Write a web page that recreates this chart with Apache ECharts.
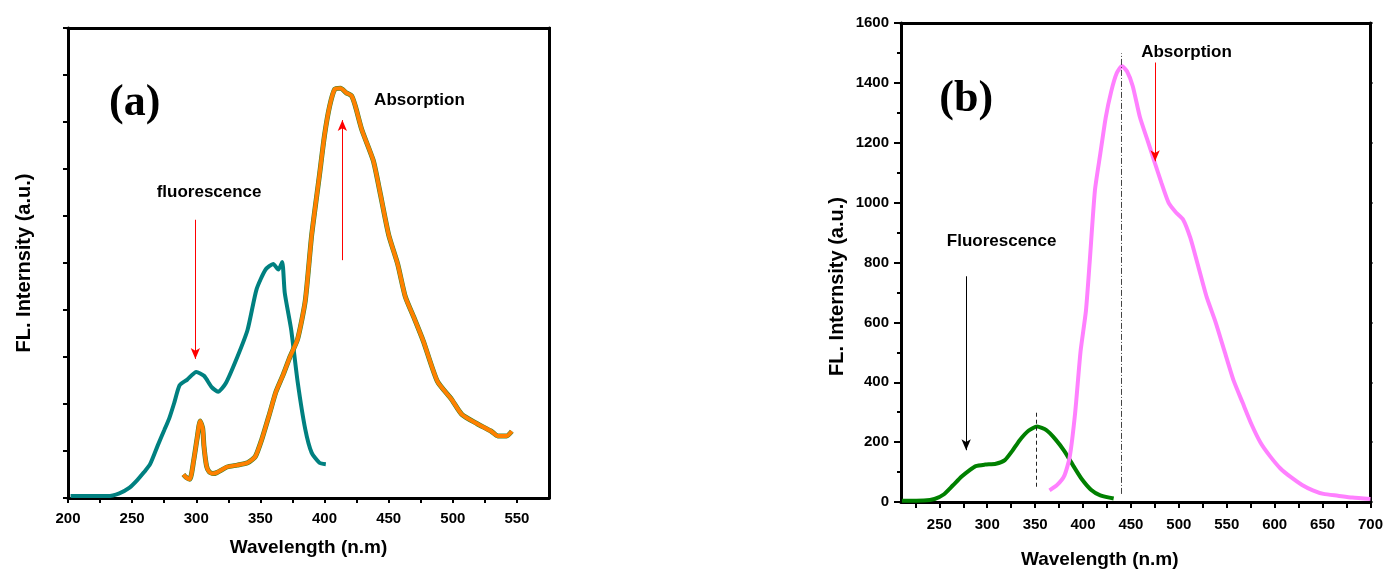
<!DOCTYPE html>
<html><head><meta charset="utf-8">
<script src="https://cdn.jsdelivr.net/npm/echarts@6/dist/echarts.min.js"></script>
<style>html,body{margin:0;padding:0;background:#fff}#c{width:1386px;height:574px}</style>
</head><body><div id="c"></div>
<script>
// ---------- Panel (a) data ----------
const A_FL_X = [202,215,231,240,248,254,259,264,270,275,279,283,287,293,300,306,312,317,323,332,340,347,354,360,364,367,369,374,379,385,390,396,401];
const A_FL_Y = [0.02,0.02,0.02,0.05,0.11,0.19,0.27,0.36,0.56,0.72,0.85,1.02,1.20,1.26,1.34,1.30,1.18,1.13,1.22,1.50,1.79,2.22,2.43,2.49,2.43,2.51,2.18,1.79,1.24,0.73,0.48,0.375,0.36];
const A_AB_X = [290,292,295,298,300.5,303,305,306,308,310,313,316,324,332,340,346,351,357,362,368,373,379,385,390,396,400,404,408,412.5,417,421,424,429,438,443,450,457,463,470,477,488,499,507,519,530,535,542,546];
const A_AB_Y = [0.25,0.22,0.2,0.4,0.62,0.82,0.74,0.55,0.34,0.28,0.26,0.27,0.33,0.35,0.375,0.44,0.62,0.89,1.125,1.32,1.50,1.69,2.10,2.80,3.43,3.86,4.17,4.35,4.36,4.31,4.28,4.17,3.92,3.59,3.27,2.80,2.49,2.14,1.91,1.67,1.24,1.05,0.89,0.79,0.71,0.66,0.66,0.71];
const A_XLABELS = [200,250,300,350,400,450,500,550];
const A_XTICKS = [200,225,250,275,300,325,350,375,400,425,450,475,500,525,550];

// ---------- Panel (b) data ----------
const B_FL_X = [211,234,245,254.5,264,273.3,281,288,297.7,309,318.4,326,333.5,343,352,361.7,371,380.5,390,399,408.6,418,432];
const B_FL_Y = [4,5,10,25,55,85,105,120,125,128,140,170,205,238,252,240,210,170,120,75,40,22,12];
const B_AB_X = [365,373,380.5,386,391.7,397.4,403,406.8,412.4,418,423.7,429.3,435,440.6,446,451.9,459.4,466.9,474.4,481.9,489.5,497,504.5,512,519.5,528.9,538.3,547.7,557.1,566.5,575.9,585.3,594.7,606,617.3,628.6,639.8,651,666,681,700];
const B_AB_Y = [39,57,88,149,296,503,638,796,1041,1163,1285,1370,1431,1456,1438,1389,1285,1212,1138,1065,998,967,943,882,796,686,601,503,406,332,259,198,155,112,82,57,39,27,21,15,10];
const B_XLABELS = [250,300,350,400,450,500,550,600,650,700];
const B_XTICKS = [225,250,275,300,325,350,375,400,425,450,475,500,525,550,575,600,625,650,675,700];

const zip = (xs, ys) => xs.map((x, i) => [x, ys[i]]);
const FONT = "'Liberation Sans', Arial, sans-serif";
const SERIF = "'Liberation Serif', 'DejaVu Serif', serif";
const AX = {onZero: false, lineStyle: {color: '#000', width: 3}};
const SM = 0.2;

function label(coord, text, size, family) {
  return {coord: coord, symbol: 'circle', symbolSize: 0,
    label: {show: true, position: 'inside', formatter: text, color: '#000',
      fontSize: size, fontWeight: 'bold', fontFamily: family}};
}
function arrow(x, y1, y2, color) {
  return [{coord: [x, y1], lineStyle: {color: color, width: 1, type: 'solid'}},
          {coord: [x, y2]}];
}

const chart = echarts.init(document.getElementById('c'), null, {renderer: 'canvas'});
chart.setOption({
  animation: false,
  backgroundColor: '#fff',
  grid: [
    {left: 68, top: 28, width: 481, height: 470},
    {left: 901, top: 23, width: 473, height: 479}
  ],
  xAxis: [
    {gridIndex: 0, type: 'value', min: 200, max: 575, position: 'bottom',
     name: 'Wavelength (n.m)', nameLocation: 'middle', nameGap: 40,
     nameTextStyle: {fontFamily: FONT, fontWeight: 'bold', fontSize: 19, color: '#000'},
     axisLine: AX, splitLine: {show: false},
     axisTick: {inside: false, length: 5, lineStyle: {width: 2, color: '#000'}, customValues: A_XTICKS},
     axisLabel: {customValues: A_XLABELS, margin: 13, fontFamily: FONT, fontWeight: 'bold', fontSize: 15, color: '#000'}},
    {gridIndex: 0, type: 'value', min: 200, max: 575, position: 'top',
     axisLine: AX, splitLine: {show: false}, axisTick: {show: false}, axisLabel: {show: false}},
    {gridIndex: 1, type: 'value', min: 210, max: 700, position: 'bottom',
     name: 'Wavelength (n.m)', nameLocation: 'middle', nameGap: 48,
     nameTextStyle: {fontFamily: FONT, fontWeight: 'bold', fontSize: 19, color: '#000', padding: [0, 72, 0, 0]},
     axisLine: AX, splitLine: {show: false},
     axisTick: {inside: false, length: 6, lineStyle: {width: 2, color: '#000'}, customValues: B_XTICKS},
     axisLabel: {customValues: B_XLABELS, margin: 15, fontFamily: FONT, fontWeight: 'bold', fontSize: 15, color: '#000'}},
    {gridIndex: 1, type: 'value', min: 210, max: 700, position: 'top',
     axisLine: AX, splitLine: {show: false}, axisTick: {show: false}, axisLabel: {show: false}}
  ],
  yAxis: [
    {gridIndex: 0, type: 'value', min: 0, max: 5, interval: 0.5, position: 'left',
     name: 'FL. Internsity (a.u.)', nameLocation: 'middle', nameGap: 34,
     nameTextStyle: {fontFamily: FONT, fontWeight: 'bold', fontSize: 20, color: '#000'},
     axisLine: AX, splitLine: {show: false},
     axisTick: {inside: false, length: 5, lineStyle: {width: 2, color: '#000'}},
     axisLabel: {show: false}},
    {gridIndex: 0, type: 'value', min: 0, max: 5, interval: 0.5, position: 'right',
     axisLine: AX, splitLine: {show: false},
     axisTick: {inside: false, length: 2, lineStyle: {width: 2, color: '#000'}}, axisLabel: {show: false}},
    {gridIndex: 1, type: 'value', min: 0, max: 1600, interval: 200, position: 'left',
     name: 'FL. Internsity (a.u.)', nameLocation: 'middle', nameGap: 54,
     nameTextStyle: {fontFamily: FONT, fontWeight: 'bold', fontSize: 20, color: '#000', padding: [0, 48, 0, 0]},
     axisLine: AX, splitLine: {show: false},
     axisTick: {inside: false, length: 7, lineStyle: {width: 2, color: '#000'}},
     minorTick: {show: true, splitNumber: 2, length: 4, lineStyle: {width: 2, color: '#000'}},
     axisLabel: {margin: 12, formatter: v => String(v), fontFamily: FONT, fontWeight: 'bold', fontSize: 15, color: '#000'}},
    {gridIndex: 1, type: 'value', min: 0, max: 1600, interval: 200, position: 'right',
     axisLine: AX, splitLine: {show: false},
     axisTick: {inside: false, length: 2, lineStyle: {width: 2, color: '#000'}}, axisLabel: {show: false}}
  ],
  series: [
    {type: 'line', xAxisIndex: 0, yAxisIndex: 0, data: zip(A_FL_X, A_FL_Y), showSymbol: false, smooth: SM,
     lineStyle: {color: '#008080', width: 4}, silent: true,
     markLine: {silent: true, symbol: ['none', 'arrow'], symbolSize: [7, 11], label: {show: false},
       data: [arrow(299.3, 2.96, 1.48, '#ff0000'), arrow(413.9, 2.53, 4.02, '#ff0000')]},
     markPoint: {silent: true, data: [
       label([252, 4.19], '(a)', 44, SERIF),
       label([474, 4.23], 'Absorption', 17, FONT),
       label([310, 3.25], 'fluorescence', 17, FONT)]}},
    {type: 'line', xAxisIndex: 0, yAxisIndex: 0, data: zip(A_AB_X, A_AB_Y), showSymbol: false, smooth: SM,
     lineStyle: {color: '#3f7f2a', width: 5}, silent: true},
    {type: 'line', xAxisIndex: 0, yAxisIndex: 0, data: zip(A_AB_X, A_AB_Y), showSymbol: false, smooth: SM,
     lineStyle: {color: '#ff8000', width: 4}, silent: true},
    {type: 'line', xAxisIndex: 2, yAxisIndex: 2, data: zip(B_FL_X, B_FL_Y), showSymbol: false, smooth: SM,
     lineStyle: {color: '#008000', width: 4}, silent: true,
     markLine: {silent: true, symbol: ['none', 'none'], label: {show: false},
       data: [
         [{coord: [351, 51], lineStyle: {color: '#222', width: 1, type: [4, 3]}}, {coord: [351, 308]}],
         [{coord: [440, 27], lineStyle: {color: '#444', width: 1, type: [6, 2, 1, 2]}}, {coord: [440, 1499]}]
       ]},
     markPoint: {silent: true, data: [
       label([278, 1343], '(b)', 44, SERIF),
       label([508, 1501], 'Absorption', 17, FONT),
       label([315, 870], 'Fluorescence', 17, FONT)]}},
    {type: 'line', xAxisIndex: 2, yAxisIndex: 2, data: zip(B_AB_X, B_AB_Y), showSymbol: false, smooth: SM,
     lineStyle: {color: '#ff80ff', width: 4}, silent: true,
     markLine: {silent: true, symbol: ['none', 'arrow'], symbolSize: [7, 11], label: {show: false},
       data: [arrow(278, 754, 173, '#000000'), arrow(475.2, 1468, 1138, '#ff0000')]}}
  ]
});
</script></body></html>
